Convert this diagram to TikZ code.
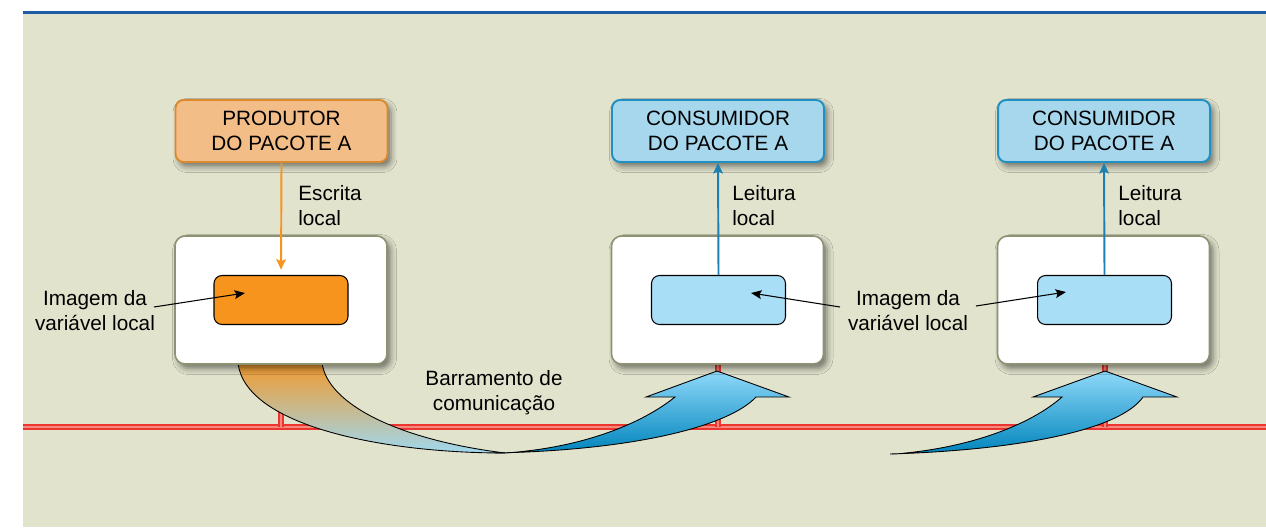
\documentclass[tikz,border=0pt]{standalone}
\usepackage{fontspec}
\setmainfont{Liberation Sans}
\usetikzlibrary{shadows.blur,arrows.meta}
\definecolor{bg}{HTML}{E2E3CD}
\definecolor{topblue}{HTML}{1E5CA8}
\definecolor{prodfill}{HTML}{F2BD87}
\definecolor{prodline}{HTML}{D98A2F}
\definecolor{consfill}{HTML}{A6D7EC}
\definecolor{consline}{HTML}{2090C2}
\definecolor{wline}{HTML}{8C9272}
\definecolor{imgorange}{HTML}{F7941D}
\definecolor{imgblue}{HTML}{A9DEF7}
\definecolor{arrblue}{HTML}{1C80B2}
\definecolor{busred}{HTML}{EC3530}
\definecolor{buspink}{HTML}{F58A7C}
\definecolor{bandtan}{HTML}{D9B08A}
\definecolor{bandblue}{HTML}{A0D8EE}
\definecolor{btop}{HTML}{8FD9F9}
\definecolor{bmid}{HTML}{00A8DC}
\definecolor{bbot}{HTML}{0084BC}
\tikzset{
  boxshadow/.style={blur shadow={shadow xshift=0.07cm, shadow yshift=-0.09cm, shadow blur radius=0.12cm, shadow opacity=50}},
  topbox/.style={line width=1.1pt, rounded corners=0.16cm, minimum width=4.24cm, minimum height=1.24cm, align=center, inner sep=0pt, boxshadow},
  prodbox/.style={topbox, fill=prodfill, draw=prodline},
  consbox/.style={topbox, fill=consfill, draw=consline},
  whitebox/.style={draw=wline, fill=white, line width=0.9pt, rounded corners=0.2cm, minimum width=4.24cm, minimum height=2.56cm, inner sep=0pt, boxshadow},
  imgbox/.style={draw=black, line width=0.6pt, rounded corners=0.16cm, minimum width=2.68cm, minimum height=0.98cm, inner sep=0pt},
  lbl/.style={align=left, anchor=west, inner sep=0pt},
  clbl/.style={align=center, inner sep=0pt},
  busline/.style={draw=busred, line width=1.2pt, double=buspink, double distance=1.0pt},
  writearrow/.style={draw=imgorange, line width=1.1pt, -{Stealth[length=6pt,width=5.5pt,inset=1.2pt]}},
  readarrow/.style={draw=arrblue, line width=1.1pt, -{Stealth[length=6pt,width=5.5pt,inset=1.2pt]}},
  ptr/.style={draw=black, line width=0.6pt, -{Stealth[length=6pt,width=5pt,inset=1.2pt]}},
  outline/.style={draw=black, line width=0.5pt},
  bandshade/.style={top color=imgorange, middle color=bandtan, bottom color=bandblue},
  blueshade/.style={top color=btop, middle color=bmid, bottom color=bbot}
}
\begin{document}
\begin{tikzpicture}[x=0.02cm,y=-0.02cm,font=\fontsize{11.8}{14.2}\selectfont]
\useasboundingbox (0,0) rectangle (1266,527);
\fill[bg] (23,13) rectangle (1266,527);
\draw[topblue, line width=1.5pt] (23,12.5) -- (1266,12.5);

% bus
\coordinate (busL) at (23,427);
\coordinate (busR) at (1266,427);
\coordinate (drop1) at (281,427);
\coordinate (drop2) at (718,427);
\coordinate (drop3) at (1105,427);
\draw[busline] (busL) -- (busR);
\draw[busline] (281,362) -- (drop1);
\draw[busline] (718,362) -- (drop2);
\draw[busline] (1105,362) -- (drop3);

% big arrow 1, left band
\path[bandshade] (238,355) -- (238,363) .. controls (245,425) and (380,453) .. (505,453) .. controls (400,440) and (328,405) .. (322,363) -- (322,355) -- cycle;
\draw[outline] (238,363) .. controls (245,425) and (380,453) .. (505,453) .. controls (400,440) and (328,405) .. (322,363);
% big arrow 1, right part
\path[blueshade] (495,453) .. controls (640,450) and (730,425) .. (756,397) -- (789,397) -- (717,371) -- (646,397) -- (675,397) .. controls (640,425) and (580,448) .. (505,453) -- cycle;
\draw[outline, line join=miter] (495,453) .. controls (640,450) and (730,425) .. (756,397) -- (789,397) -- (717,371) -- (646,397) -- (675,397) .. controls (640,425) and (580,448) .. (505,453) -- cycle;
% big arrow 2
\path[blueshade] (890,454) .. controls (1020,450) and (1120,430) .. (1143,397) -- (1177,397) -- (1105,371) -- (1033,397) -- (1062,397) .. controls (1030,425) and (970,448) .. (895,454) -- cycle;
\draw[outline, line join=miter] (890,454) .. controls (1020,450) and (1120,430) .. (1143,397) -- (1177,397) -- (1105,371) -- (1033,397) -- (1062,397) .. controls (1030,425) and (970,448) .. (895,454) -- cycle;

% boxes
\node[prodbox] (prod) at (281.5,131) {PRODUTOR\\DO PACOTE A};
\node[consbox] (cons1) at (718,131) {CONSUMIDOR\\DO PACOTE A};
\node[consbox] (cons2) at (1104,131) {CONSUMIDOR\\DO PACOTE A};

\node[whitebox] (pw) at (281,300) {};
\node[whitebox] (cw1) at (717.5,300) {};
\node[whitebox] (cw2) at (1103.5,300) {};

\node[imgbox, fill=imgorange] (pimg) at (281,300) {};
\node[imgbox, fill=imgblue] (cimg1) at (718.5,300) {};
\node[imgbox, fill=imgblue] (cimg2) at (1104.5,300) {};

% local write / read
\draw[writearrow, shorten >=3pt] (prod.south) -- (pimg.north);
\draw[readarrow] (cimg1.north) -- (cons1.south);
\draw[readarrow] (cimg2.north) -- (cons2.south);

\node[lbl] (esc) at (298,206) {Escrita\\local};
\node[lbl] (lei1) at (732,206) {Leitura\\local};
\node[lbl] (lei2) at (1118,206) {Leitura\\local};

% image labels
\node[clbl] (img1) at (95,311) {Imagem da\\variável local};
\node[clbl] (img2) at (908,311) {Imagem da\\variável local};
\coordinate (p1s) at (154,307);
\coordinate (p1e) at (245,293);
\coordinate (p2s) at (840,307);
\coordinate (p2e) at (751,293);
\coordinate (p3s) at (976,306);
\coordinate (p3e) at (1066,292);
\draw[ptr] (p1s) -- (p1e);
\draw[ptr] (p2s) -- (p2e);
\draw[ptr] (p3s) -- (p3e);

\node[clbl] (bar) at (494,393) {Barramento de\\comunicação};
\end{tikzpicture}
\end{document}
